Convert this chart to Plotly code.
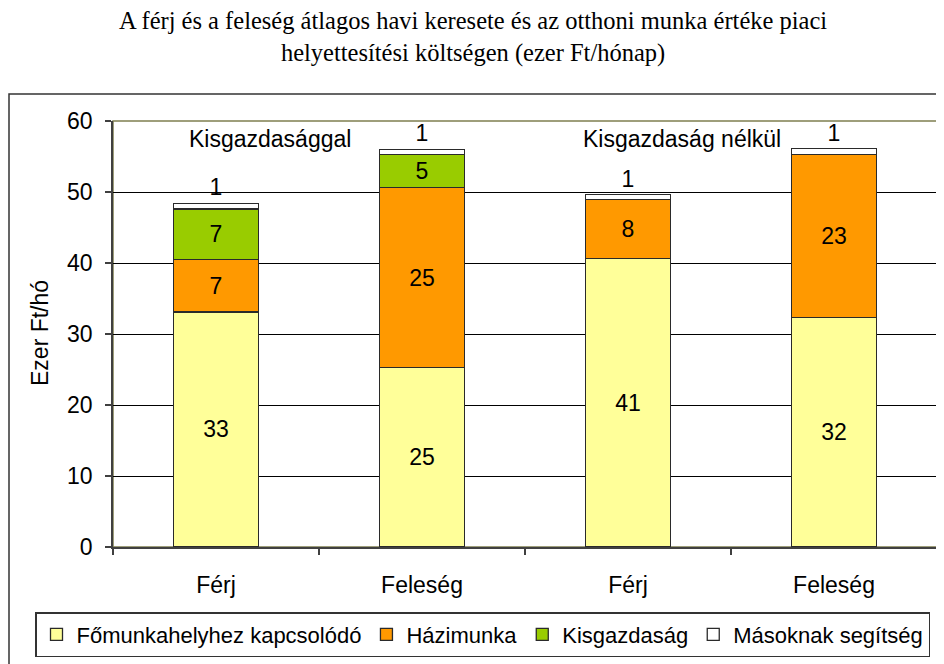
import plotly.graph_objects as go

categories = ["Férj", "Feleség", "Férj", "Feleség"]
x_pos = [0, 1, 2, 3]
fomunka = [33.1, 25.3, 40.6, 32.3]
hazimunka = [7.4, 25.3, 8.3, 23.0]
kisgazdasag = [7.1, 4.7, None, None]
masoknak = [0.8, 0.7, 0.7, 0.8]
series_names = ["Főmunkahelyhez kapcsolódó", "Házimunka", "Kisgazdaság", "Másoknak segítség"]
group_labels = ["Kisgazdasággal", "Kisgazdaság nélkül"]
group_label_x = [0.26, 2.26]
y_ticks = [0, 10, 20, 30, 40, 50, 60]

colors = ["#FFFF99", "#FF9900", "#99CC00", "#FFFFFF"]
FONT = "Liberation Sans, Arial, sans-serif"

# page body has an 8px margin; compensate so target pixel positions match
OFF = 8
W, H = 936, 656
L, T = 113 - OFF, 121 - OFF
R = W - (937 - OFF)
B = H - (547 - OFF)
pw, ph = W - L - R, H - T - B

def px_x(p):
    return (p - OFF - L) / pw

def px_y(p):
    return (H - B - (p - OFF)) / ph

fig = go.Figure()
data = [fomunka, hazimunka, kisgazdasag, masoknak]
for i, (name, vals) in enumerate(zip(series_names, data)):
    fig.add_trace(go.Bar(
        x=x_pos, y=vals, name=name, width=0.41,
        marker=dict(color=colors[i], line=dict(color="#2a2a2a", width=1.3)),
        texttemplate="%{y:.0f}",
        textposition="outside" if i == 3 else "inside",
        insidetextanchor="middle",
        textangle=0,
        constraintext="none",
        textfont=dict(family=FONT, size=23, color="#000000"),
        cliponaxis=False,
    ))

fig.update_layout(
    barmode="stack",
    width=W, height=H,
    margin=dict(l=L, r=R, t=T, b=B, pad=0),
    paper_bgcolor="white", plot_bgcolor="white",
    font=dict(family=FONT, size=23, color="#000000"),
    showlegend=True,
    legend=dict(
        orientation="h", traceorder="normal",
        x=px_x(35), xanchor="left", y=px_y(612), yanchor="top",
        bordercolor="#333333", borderwidth=1.5, bgcolor="white",
        font=dict(family=FONT, size=22, color="#000000"),
        itemwidth=30,
    ),
    xaxis=dict(
        range=[-0.5, 3.5], tickvals=x_pos, ticktext=categories,
        ticks="outside", ticklen=17, tickcolor="rgba(0,0,0,0)",
        showline=True, linecolor="#404040", linewidth=1.5,
        showgrid=False, zeroline=False,
        tickfont=dict(family=FONT, size=23, color="#000000"),
        minor=dict(tickvals=[-0.5, 0.5, 1.5, 2.5, 3.5], ticks="outside",
                   ticklen=6, tickcolor="#404040", tickwidth=1.5, showgrid=False),
    ),
    yaxis=dict(
        range=[0, 60], tickvals=y_ticks,
        ticks="outside", ticklen=6, tickcolor="#404040", tickwidth=1.5,
        showline=True, linecolor="#404040", linewidth=1.5,
        showgrid=True, gridcolor="#000000", gridwidth=1,
        zeroline=False, ticklabelstandoff=8,
        tickfont=dict(family=FONT, size=23, color="#000000"),
    ),
)

# plot area border (olive top/right)
fig.add_shape(type="rect", xref="paper", yref="paper", x0=0, x1=1, y0=0, y1=1,
              line=dict(color="#7F7F50", width=1.5), layer="below")
# outer chart frame
fig.add_shape(type="rect", xref="paper", yref="paper",
              x0=px_x(9), x1=px_x(990), y0=px_y(720), y1=px_y(94),
              line=dict(color="#333333", width=1.5), layer="below")

# title
fig.add_annotation(
    xref="paper", yref="paper", x=px_x(473), y=px_y(37),
    text="A férj és a feleség átlagos havi keresete és az otthoni munka értéke piaci<br>helyettesítési költségen (ezer Ft/hónap)",
    showarrow=False, xanchor="center", yanchor="middle", align="center",
    font=dict(family="Liberation Serif, Times New Roman, serif", size=24.5, color="#000000"),
)
# y axis title
fig.add_annotation(
    xref="paper", yref="paper", x=px_x(40), y=px_y(333), text="Ezer Ft/hó",
    textangle=-90, showarrow=False, xanchor="center", yanchor="middle",
    font=dict(family=FONT, size=23, color="#000000"),
)
# group labels
for gx, gl in zip(group_label_x, group_labels):
    fig.add_annotation(x=gx, y=57.4, xref="x", yref="y", text=gl, showarrow=False,
                       xanchor="center", yanchor="middle",
                       font=dict(family=FONT, size=23, color="#000000"))

fig.write_html("out.html")
